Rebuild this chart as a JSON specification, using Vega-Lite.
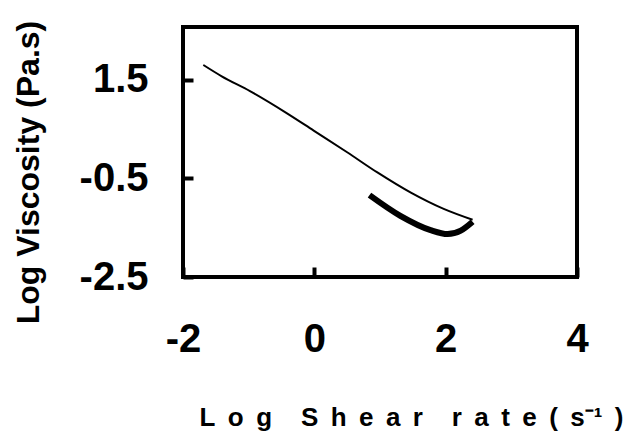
{
  "$schema": "https://vega.github.io/schema/vega-lite/v6.json",
  "width": 394,
  "height": 250,
  "autosize": "none",
  "padding": {"left": 183, "top": 27, "right": 50, "bottom": 160},
  "background": "white",
  "config": {
    "view": {"stroke": "black", "strokeWidth": 4},
    "font": "Liberation Sans",
    "axis": {
      "grid": false,
      "domain": false,
      "ticks": true,
      "tickColor": "black",
      "tickWidth": 4,
      "tickSize": -10,
      "labelFlush": false,
      "labelOverlap": false,
      "labelFont": "Liberation Sans",
      "labelFontWeight": "bold",
      "labelFontSize": 40,
      "labelColor": "black",
      "titleFont": "Liberation Sans",
      "titleFontWeight": "bold",
      "titleColor": "black"
    }
  },
  "data": {
    "values": [
      {"s": "a", "x": -1.69, "y": 1.80},
      {"s": "a", "x": -1.41, "y": 1.57},
      {"s": "a", "x": -0.98, "y": 1.27},
      {"s": "a", "x": -0.44, "y": 0.84},
      {"s": "a", "x": -0.01, "y": 0.47},
      {"s": "a", "x": 0.50, "y": 0.03},
      {"s": "a", "x": 0.96, "y": -0.38},
      {"s": "a", "x": 1.47, "y": -0.79},
      {"s": "a", "x": 1.97, "y": -1.12},
      {"s": "a", "x": 2.41, "y": -1.34},
      {"s": "b", "x": 0.84, "y": -0.84},
      {"s": "b", "x": 1.31, "y": -1.26},
      {"s": "b", "x": 1.77, "y": -1.55},
      {"s": "b", "x": 2.03, "y": -1.63},
      {"s": "b", "x": 2.23, "y": -1.56},
      {"s": "b", "x": 2.41, "y": -1.38}
    ]
  },
  "encoding": {
    "x": {
      "field": "x", "type": "quantitative",
      "scale": {"domain": [-2, 4], "nice": false},
      "axis": {
        "values": [-2, 0, 2, 4],
        "labelExpr": "replace(datum.label, '\u2212', '-')",
        "title": "L\u00a0\u2009o\u00a0\u2009g\u00a0\u00a0\u00a0\u00a0S\u00a0\u2009h\u00a0\u2009e\u00a0\u2009a\u00a0\u2009r\u00a0\u00a0\u00a0\u00a0r\u00a0\u2009a\u00a0\u2009t\u00a0\u2009e\u00a0\u2009(\u00a0\u2009s⁻¹\u00a0\u2009)",
        "titleFontSize": 26,
        "labelPadding": 52,
        "titleX": 228,
        "titleY": 148,
        "titleBaseline": "alphabetic"
      }
    },
    "y": {
      "field": "y", "type": "quantitative",
      "scale": {"domain": [-2.5, 2.57], "nice": false, "zero": false},
      "axis": {
        "values": [-2.5, -0.5, 1.5],
        "format": ".1f",
        "labelExpr": "replace(datum.label, '\u2212', '-')",
        "title": "Log Viscosity (Pa.s)",
        "titleFontSize": 32,
        "labelPadding": 45,
        "titleX": -145,
        "titleY": 145,
        "titleBaseline": "alphabetic"
      }
    }
  },
  "layer": [
    {
      "transform": [{"filter": "datum.s === 'a'"}],
      "mark": {"type": "line", "color": "black", "strokeWidth": 2, "interpolate": "monotone"}
    },
    {
      "transform": [{"filter": "datum.s === 'b'"}],
      "mark": {"type": "line", "color": "black", "strokeWidth": 6, "interpolate": "monotone"}
    }
  ]
}
